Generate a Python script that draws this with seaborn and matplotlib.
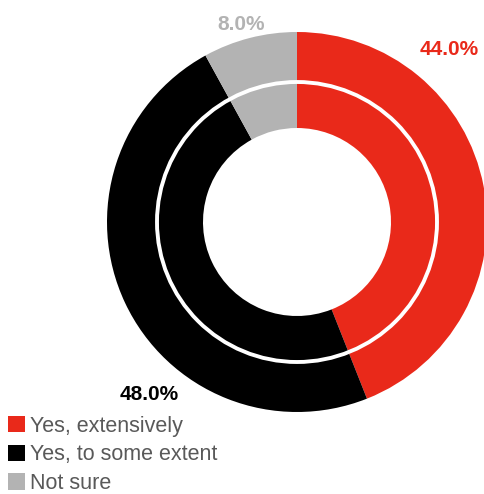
import matplotlib
matplotlib.use("Agg")
import matplotlib.pyplot as plt
from matplotlib.patches import Circle, Patch
import seaborn as sns

# Survey answers and their shares (percent)
categories = ["Yes, extensively", "Yes, to some extent", "Not sure"]
shares = [44.0, 48.0, 8.0]
colors = ["#E9291A", "#000000", "#B3B3B3"]
label_text = [f"{v:.1f}%" for v in shares]

sns.set_theme(style="white")
plt.rcParams["font.family"] = ["Liberation Sans", "DejaVu Sans"]

W, H = 485, 494
fig = plt.figure(figsize=(W / 100, H / 100), dpi=100)
ax = fig.add_axes([0, 0, 1, 1])

cx, cy = 297, H - 222
r_out, r_in = 190, 94

wedges, _ = ax.pie(
    shares,
    colors=colors,
    startangle=90,
    counterclock=False,
    radius=r_out,
    center=(cx, cy),
    wedgeprops=dict(width=r_out - r_in, linewidth=0),
    frame=True,
)
ax.set_xlim(0, W)
ax.set_ylim(0, H)
ax.set_aspect("equal")
ax.axis("off")

# thin white ring inside the donut
ax.add_patch(Circle((cx, cy), 140, fill=False, edgecolor="white", linewidth=2.8))

# value labels
label_pos = [(449, H - 47), (149, H - 393), (241, H - 22)]
for (x, y), txt, c in zip(label_pos, label_text, colors):
    ax.text(x, y, txt, color=c, fontsize=15, fontweight="bold",
            ha="center", va="center_baseline")

handles = [Patch(facecolor=c, edgecolor="none") for c in colors]
leg = fig.legend(
    handles, categories,
    loc="lower left", bbox_to_anchor=(3.5 / W, -4.5 / H),
    frameon=False, fontsize=15.5,
    handlelength=0.8, handleheight=0.8, handletextpad=0.22,
    labelspacing=0.36, borderaxespad=0.0, borderpad=0.2,
)
for t in leg.get_texts():
    t.set_color("#595959")

fig.savefig("out.png", dpi=100)
